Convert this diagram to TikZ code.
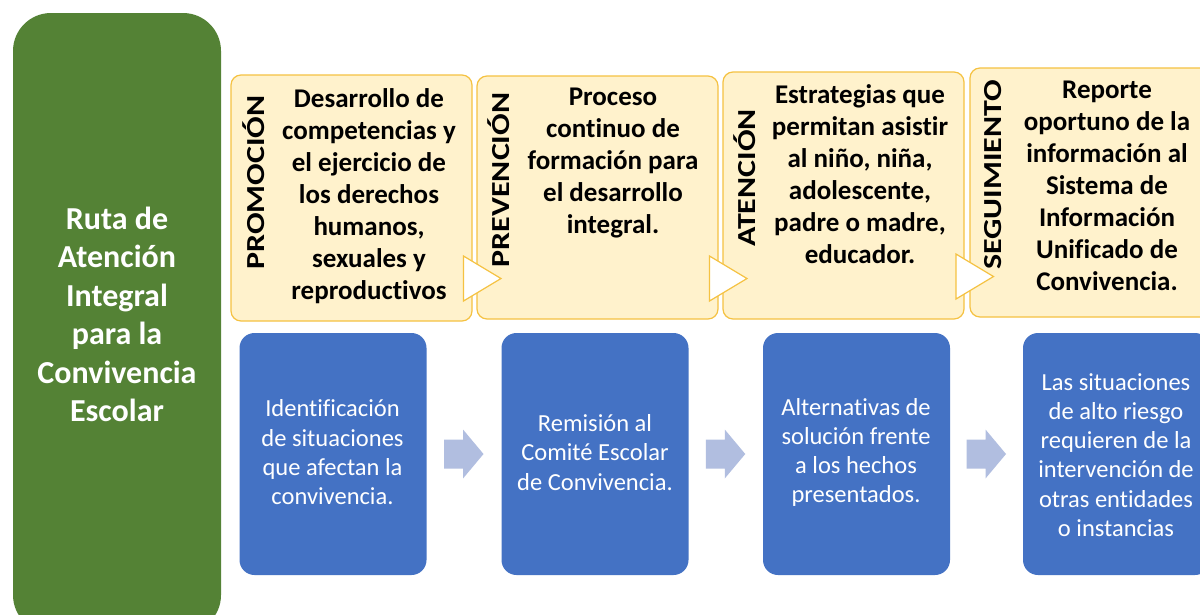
\documentclass[tikz,border=0pt]{standalone}
\usepackage{fontspec}
\usepackage{graphicx}
\setmainfont{Carlito}[Ligatures={NoCommon}]
\usetikzlibrary{calc}
\definecolor{rgreen}{HTML}{548235}
\definecolor{rblue}{HTML}{4472C4}
\definecolor{ryel}{HTML}{FFF2CC}
\definecolor{rgold}{HTML}{F5C242}
\definecolor{rarrow}{HTML}{B1BEE0}
\begin{document}
\begin{tikzpicture}[x=1pt,y=-1pt,
  gbox/.style={fill=rgreen, draw=none, rounded corners=38pt, inner sep=0pt},
  ybox/.style={draw=rgold, fill=ryel, line width=1.2pt, rounded corners=10pt, inner sep=0pt},
  bbox/.style={fill=rblue, draw=none, rounded corners=15pt, inner sep=0pt, minimum width=187pt, minimum height=242pt},
  ylab/.style={rotate=90, font=\fontsize{26}{32}\selectfont\bfseries, inner sep=0pt},
  ytext/.style={align=center, font=\fontsize{27}{32}\selectfont\bfseries, inner sep=0pt},
  btext/.style={align=center, text=white, font=\fontsize{24.5}{29.3}\selectfont, inner sep=0pt},
  gtext/.style={align=center, text=white, font=\fontsize{32}{38.5}\selectfont\bfseries, inner sep=0pt},
  chev/.style={fill=white, draw=rgold, line width=1.2pt, line join=miter},
  barrow/.style={fill=rarrow, draw=none}
]
\useasboundingbox (0,0) rectangle (1200,614);
\fill[white] (0,0) rectangle (1200,614);
\clip (0,0) rectangle (1200,614);

% green column
\node[gbox, minimum width=208pt, minimum height=620pt] (g) at (117,323) {};
\node[gtext] (gt) at (117,314.5) {Ruta de\\Atención\\Integral\\para la\\Convivencia\\Escolar};

% yellow boxes
\node[ybox, minimum width=241pt, minimum height=246pt] (y1) at (351.5,198) {};
\node[ybox, minimum width=241pt, minimum height=243pt] (y2) at (597.5,197.5) {};
\node[ybox, minimum width=241pt, minimum height=247pt] (y3) at (843.5,195.5) {};
\node[ybox, minimum width=242pt, minimum height=249pt] (y4) at (1091,192.5) {};

% chevrons between yellow boxes
\coordinate (c1) at (474.5,278.5);
\coordinate (c2) at (720.5,278.5);
\coordinate (c3) at (967,276.5);
\foreach \c in {c1,c2,c3}{
  \draw[chev, shift={(\c)}] (-11,-22.5) -- (26.5,0) -- (-11,22.5) -- cycle;
}

% vertical labels
\node[ylab] (l1) at (254,182.5) {\scalebox{1.23}[1]{PROMOCIÓN}};
\node[ylab] (l2) at (499,180) {\scalebox{1.23}[1]{PREVENCIÓN}};
\node[ylab] (l3) at (745,178) {\scalebox{1.23}[1]{ATENCIÓN}};
\node[ylab] (l4) at (993,175) {\scalebox{1.23}[1]{SEGUIMIENTO}};

% yellow texts
\node[ytext] (t1) at (369,196) {Desarrollo de\\competencias y\\el ejercicio de\\los derechos\\humanos,\\sexuales y\\reproductivos};
\node[ytext] (t2) at (613,163.5) {Proceso\\continuo de\\formación para\\el desarrollo\\integral.};
\node[ytext] (t3) at (860,174) {Estrategias que\\permitan asistir\\al niño, niña,\\adolescente,\\padre o madre,\\educador.};
\node[ytext] (t4) at (1107,186) {Reporte\\oportuno de la\\información al\\Sistema de\\Información\\Unificado de\\Convivencia.};

% blue boxes
\node[bbox] (b1) at (333,454) {};
\node[bbox] (b2) at (595,454) {};
\node[bbox] (b3) at (856.5,454) {};
\node[bbox] (b4) at (1116.5,454) {};

\node[btext] (s1) at (332.5,452.5) {Identificación\\de situaciones\\que afectan la\\convivencia.};
\node[btext] (s2) at (595,452.5) {Remisión al\\Comité Escolar\\de Convivencia.};
\node[btext] (s3) at (856,452.5) {Alternativas de\\solución frente\\a los hechos\\presentados.};
\node[btext] (s4) at (1116,455) {Las situaciones\\de alto riesgo\\requieren de la\\intervención de\\otras entidades\\o instancias};

% block arrows between blue boxes
\coordinate (m1) at ($(b1.east)!0.5!(b2.west)$);
\coordinate (m2) at ($(b2.east)!0.5!(b3.west)$);
\coordinate (m3) at ($(b3.east)!0.5!(b4.west)$);
\foreach \m in {m1,m2,m3}{
  \fill[barrow, shift={(\m)}] (-20,-14.5) -- (-1,-14.5) -- (-1,-24.5) -- (19.5,0) -- (-1,24.5) -- (-1,14.5) -- (-20,14.5) -- cycle;
}
\end{tikzpicture}
\end{document}
